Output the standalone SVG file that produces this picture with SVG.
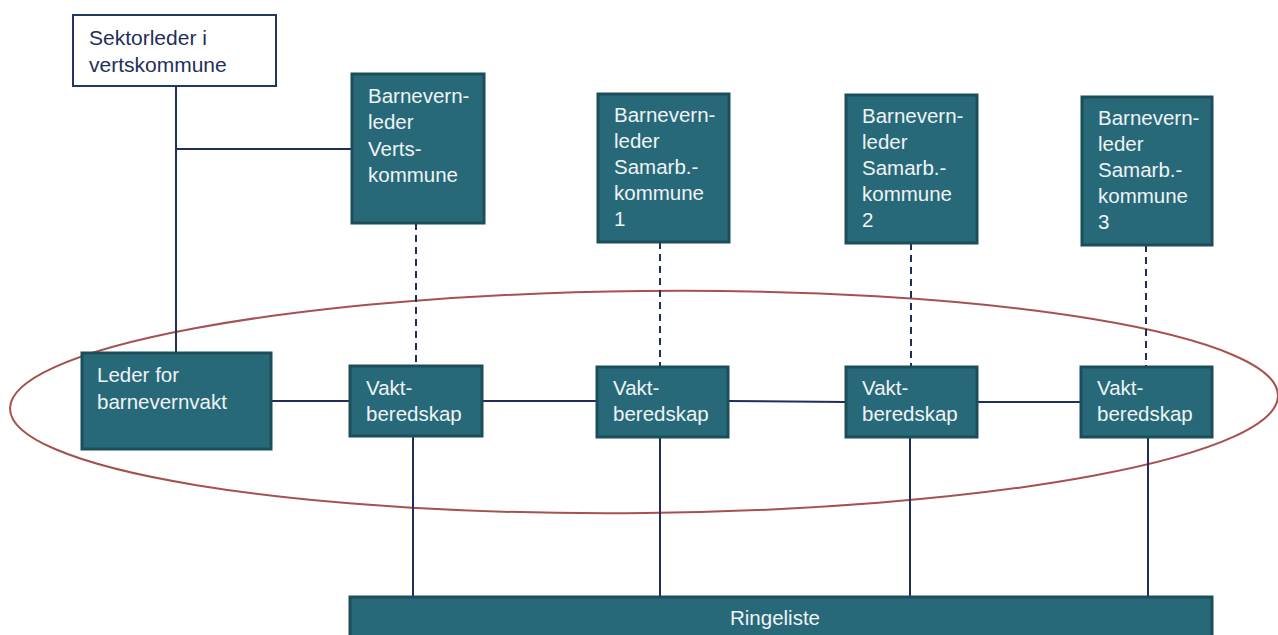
<svg xmlns="http://www.w3.org/2000/svg" width="1278" height="635" viewBox="0 0 1278 635">
<style>
.box{fill:#286979;stroke:#1c4e5a;stroke-width:3}
.wbox{fill:#ffffff;stroke:#1f3864;stroke-width:2}
.t{font-family:"Liberation Sans",Arial,sans-serif;font-size:20.5px;fill:#eef4f5}
.tw{font-family:"Liberation Sans",Arial,sans-serif;font-size:21px;fill:#1f2f5a}
.ln{stroke:#1f2f5a;stroke-width:2;fill:none}
.dl{stroke:#1f2f5a;stroke-width:2;fill:none;stroke-dasharray:7,5}
</style>
<rect width="1278" height="635" fill="#ffffff"/>
<ellipse cx="644" cy="402" rx="634" ry="111" fill="none" stroke="#a5524f" stroke-width="2" transform="rotate(-0.6 644 402)"/>
<g id="connectors">
<line class="ln" x1="176" y1="86" x2="176" y2="352"/>
<line class="ln" x1="176" y1="149" x2="352" y2="149"/>
<line class="dl" x1="416" y1="223" x2="416" y2="365"/>
<line class="dl" x1="660" y1="242" x2="660" y2="366"/>
<line class="dl" x1="911" y1="243" x2="911" y2="366"/>
<line class="dl" x1="1146" y1="245" x2="1146" y2="366"/>
<line class="ln" x1="271" y1="401" x2="350" y2="401"/>
<line class="ln" x1="482" y1="401" x2="597" y2="401"/>
<line class="ln" x1="728" y1="401" x2="846" y2="402"/>
<line class="ln" x1="977" y1="402" x2="1081" y2="402"/>
<line class="ln" x1="413" y1="436" x2="413" y2="600"/>
<line class="ln" x1="660" y1="437" x2="660" y2="605"/>
<line class="ln" x1="910" y1="437" x2="910" y2="605"/>
<line class="ln" x1="1148" y1="437" x2="1148" y2="605"/>
</g>
<g id="sektorleder">
<rect class="wbox" x="73" y="15" width="203" height="71"/>
<text class="tw" x="89" y="45">Sektorleder i</text>
<text class="tw" x="89" y="72">vertskommune</text>
</g>
<g id="bv-verts">
<rect class="box" x="352" y="74" width="132" height="149"/>
<text class="t" x="368" y="103">Barnevern-</text>
<text class="t" x="368" y="129">leder</text>
<text class="t" x="368" y="156">Verts-</text>
<text class="t" x="368" y="182">kommune</text>
</g>
<g id="bv-samarb1">
<rect class="box" x="598" y="94" width="131" height="148"/>
<text class="t" x="614" y="122">Barnevern-</text>
<text class="t" x="614" y="148">leder</text>
<text class="t" x="614" y="174">Samarb.-</text>
<text class="t" x="614" y="200">kommune</text>
<text class="t" x="614" y="226">1</text>
</g>
<g id="bv-samarb2">
<rect class="box" x="846" y="95" width="131" height="148"/>
<text class="t" x="862" y="123">Barnevern-</text>
<text class="t" x="862" y="149">leder</text>
<text class="t" x="862" y="175">Samarb.-</text>
<text class="t" x="862" y="201">kommune</text>
<text class="t" x="862" y="227">2</text>
</g>
<g id="bv-samarb3">
<rect class="box" x="1082" y="97" width="130" height="148"/>
<text class="t" x="1098" y="125">Barnevern-</text>
<text class="t" x="1098" y="151">leder</text>
<text class="t" x="1098" y="177">Samarb.-</text>
<text class="t" x="1098" y="203">kommune</text>
<text class="t" x="1098" y="229">3</text>
</g>
<g id="leder-vakt">
<rect class="box" x="82" y="353" width="189" height="96"/>
<text class="t" x="97" y="382">Leder for</text>
<text class="t" x="97" y="409">barnevernvakt</text>
</g>
<g id="vakt1">
<rect class="box" x="350" y="366" width="132" height="70"/>
<text class="t" x="366" y="395">Vakt-</text>
<text class="t" x="366" y="421">beredskap</text>
</g>
<g id="vakt2">
<rect class="box" x="597" y="367" width="131" height="70"/>
<text class="t" x="613" y="395">Vakt-</text>
<text class="t" x="613" y="421">beredskap</text>
</g>
<g id="vakt3">
<rect class="box" x="846" y="367" width="131" height="70"/>
<text class="t" x="862" y="395">Vakt-</text>
<text class="t" x="862" y="421">beredskap</text>
</g>
<g id="vakt4">
<rect class="box" x="1081" y="367" width="131" height="70"/>
<text class="t" x="1097" y="395">Vakt-</text>
<text class="t" x="1097" y="421">beredskap</text>
</g>
<g id="ringeliste">
<rect class="box" x="350" y="597" width="862" height="45"/>
<text class="t" x="775" y="625" text-anchor="middle">Ringeliste</text>
</g>
</svg>
